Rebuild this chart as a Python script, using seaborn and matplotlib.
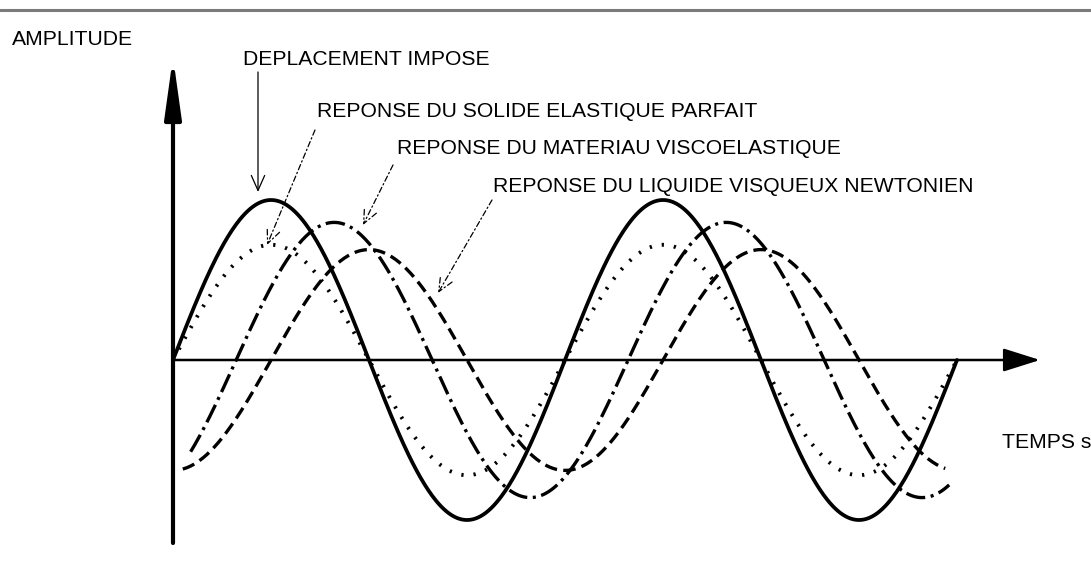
import numpy as np
import matplotlib
matplotlib.use("Agg")
import matplotlib.pyplot as plt
import seaborn as sns

W, H = 1091, 563

# sine traces: amplitude relative to the imposed
# displacement, phase lag in degrees, start / stop time in periods
curve_names = ["imposed", "elastic", "viscoelastic", "newtonian"]
amplitudes = [1.0, 0.72, 0.86, 0.69]
phase_lags = [0, 0, 58, 90]
t_start = [0.0, 0.0, 0.045, 0.025]
t_end = [2.0, 2.0, 1.98, 1.97]

labels = [
    "DEPLACEMENT IMPOSE",
    "REPONSE DU SOLIDE ELASTIQUE PARFAIT",
    "REPONSE DU MATERIAU VISCOELASTIQUE",
    "REPONSE DU LIQUIDE VISQUEUX NEWTONIEN",
]
y_title = "AMPLITUDE"
x_title = "TEMPS s"

# layout in pixels (origin of the axes, one period, one unit of amplitude)
X0, Y0 = 173, 360
PERIOD_PX, AMP_PX = 392, 160


def to_data(px, py):
    return (px - X0) / PERIOD_PX, (Y0 - py) / AMP_PX


sns.set_theme(style="white")
plt.rcParams["font.family"] = ["Liberation Sans", "DejaVu Sans"]
plt.rcParams["lines.scale_dashes"] = False

fig = plt.figure(figsize=(W / 100, H / 100), dpi=100)
ax = fig.add_axes([0, 0, 1, 1])
x_left, y_bottom = to_data(0, H)
x_right, y_top = to_data(W, 0)
ax.set_xlim(x_left, x_right)
ax.set_ylim(y_bottom, y_top)
ax.set_axis_off()

styles = [
    dict(lw=2.7, linestyle="-"),
    dict(lw=2.8, linestyle=(0, (1.6, 7.2))),
    dict(lw=2.4, linestyle=(0, (14, 4, 2.2, 4))),
    dict(lw=2.4, linestyle=(0, (9, 4.5))),
]

for amp, lag, t0, t1, st in zip(amplitudes, phase_lags, t_start, t_end, styles):
    t = np.linspace(t0, t1, 600)
    y = amp * np.sin(2 * np.pi * t - np.deg2rad(lag))
    sns.lineplot(x=t, y=y, ax=ax, color="black", sort=False,
                 solid_capstyle="round", dash_capstyle="butt", **st)

# axes with arrow heads
ax.annotate("", xy=to_data(X0, 57), xytext=to_data(X0, 543),
            arrowprops=dict(arrowstyle="-|>,head_length=3.0,head_width=0.42",
                            lw=3.0, color="black", shrinkA=0, shrinkB=0))
ax.annotate("", xy=to_data(1040, Y0), xytext=to_data(X0, Y0),
            arrowprops=dict(arrowstyle="-|>,head_length=1.9,head_width=0.6",
                            lw=1.8, color="black", shrinkA=0, shrinkB=0))

# thin grey rule at the top
ax.axhline(to_data(0, 10)[1], color="#7a7a7a", lw=2.2)

# titles and callouts
font = dict(fontsize=15.25, color="black", ha="left", va="center")
ax.text(*to_data(12, 40), y_title, **font)
ax.text(*to_data(1002, 442), x_title, **font)

label_pos = [(243, 60), (317, 112), (397, 149), (493, 187)]
arrow_from = [(258, 72), (315, 130), (393, 165), (492, 200)]
arrow_to = [(258, 192), (267, 245), (363, 225), (438, 293)]
arrow_ls = ["-", (0, (4, 2, 1, 2)), (0, (4, 2, 1, 2)), (0, (4, 2, 1, 2))]

for lab, pos, a, b, ls in zip(labels, label_pos, arrow_from, arrow_to, arrow_ls):
    ax.text(*to_data(*pos), lab, **font)
    ax.annotate("", xy=to_data(*b), xytext=to_data(*a),
                arrowprops=dict(arrowstyle="->,head_length=0.9,head_width=0.4",
                                lw=0.9, linestyle=ls, color="black",
                                shrinkA=0, shrinkB=0))

fig.savefig("out.png", dpi=100)
